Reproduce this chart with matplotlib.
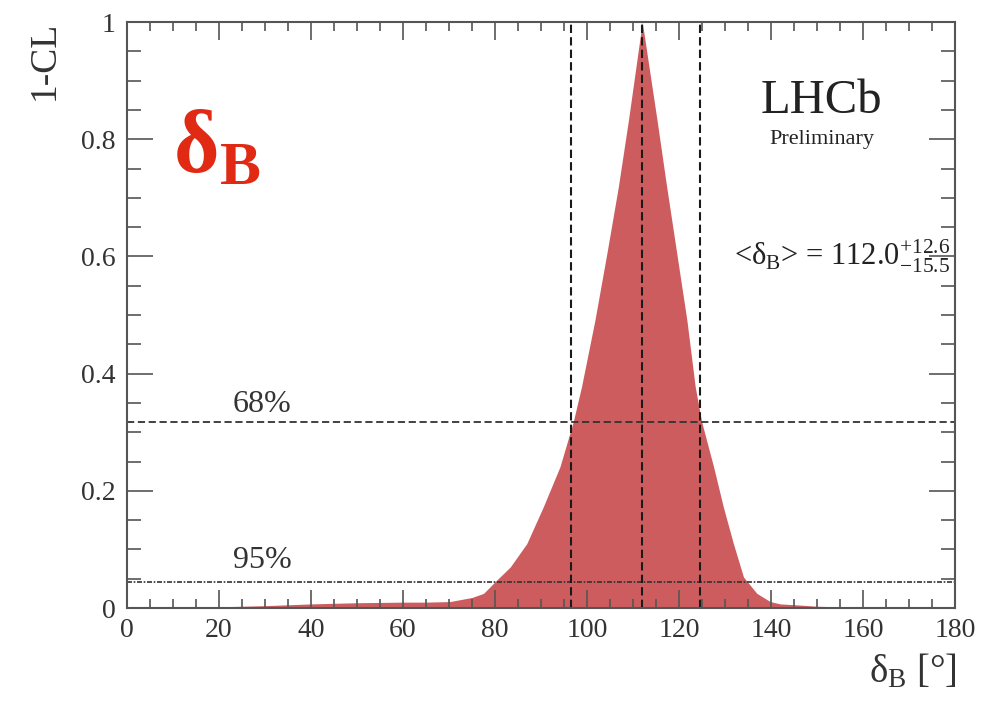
import matplotlib.pyplot as plt
import numpy as np
from matplotlib.ticker import MultipleLocator

plt.rcParams['font.family'] = ['Liberation Serif', 'DejaVu Serif']
plt.rcParams['mathtext.fontset'] = 'custom'
plt.rcParams['mathtext.rm'] = 'Liberation Serif'
plt.rcParams['mathtext.it'] = 'Liberation Serif:italic'
plt.rcParams['mathtext.bf'] = 'Liberation Serif:bold'

# 1-CL scan of delta_B
delta_b = [0, 10, 20, 30, 40, 50, 60, 65, 70.2, 75, 77.5, 80.4, 83.3, 86.9, 90.5,
           94.1, 97.0, 98.8, 101.7, 104.3, 106.8, 109.0, 112.0,
           115.2, 117.3, 119.5, 121.7, 123.5, 124.9, 127.5, 129.6, 131.8,
           134.0, 136.9, 139.8, 142, 146.3, 150, 160, 170, 180]
one_minus_cl = [0.0, 0.001, 0.002, 0.004, 0.007, 0.009, 0.010, 0.010, 0.011,
                0.018, 0.025, 0.048, 0.070, 0.110, 0.173, 0.241, 0.318, 0.378,
                0.491, 0.605, 0.719, 0.833, 1.0,
                0.833, 0.719, 0.605, 0.491, 0.378, 0.318, 0.241, 0.173, 0.110,
                0.053, 0.025, 0.011, 0.007, 0.005, 0.003, 0.001, 0.0, 0.0]

central = 112.0
err_up = 12.6
err_down = 15.5
cl68 = 0.317
cl95 = 0.045

fig = plt.figure(figsize=(9.98, 7.06), dpi=100)
ax = fig.add_axes([0.1273, 0.1388, 0.957 - 0.1273, 0.9688 - 0.1388])

ax.fill_between(delta_b, one_minus_cl, color='#cd5c5e', lw=0, zorder=1)

# confidence levels and interval boundaries
ax.axhline(cl68, color='#333333', lw=1.3, dashes=(4, 2), zorder=2)
ax.axhline(cl95, color='#333333', lw=1.2, dashes=(3, 1, 1, 1), zorder=2)
for xv in (central - err_down, central, central + err_up):
    ax.axvline(xv, color='#1a1a1a', lw=1.5, dashes=(4, 2), zorder=2)

ax.text(29.4, 0.322, '68%', fontsize=23, color='#333333', ha='center', va='bottom')
ax.text(29.4, 0.056, '95%', fontsize=23, color='#333333', ha='center', va='bottom')

ax.set_xlim(0, 180)
ax.set_ylim(0, 1)
ax.xaxis.set_major_locator(MultipleLocator(20))
ax.xaxis.set_minor_locator(MultipleLocator(5))
ax.yaxis.set_major_locator(MultipleLocator(0.2))
ax.yaxis.set_minor_locator(MultipleLocator(0.05))
ax.set_yticks([0, 0.2, 0.4, 0.6, 0.8, 1.0])
ax.set_yticklabels(['0', '0.2', '0.4', '0.6', '0.8', '1'])

ax.tick_params(axis='both', which='both', direction='in', top=True, right=True,
               color='#555555', width=1.2, labelcolor='#333333', labelsize=20)
ax.tick_params(axis='y', which='major', length=19, pad=8)
ax.tick_params(axis='y', which='minor', length=10)
ax.tick_params(axis='x', which='major', length=13, pad=7)
ax.tick_params(axis='x', which='minor', length=6.5)
for sp in ax.spines.values():
    sp.set_color('#555555')
    sp.set_linewidth(1.5)
    sp.set_zorder(3)

fig.text(0.959, 0.048, r'$\mathrm{δ_B}$ [°]', fontsize=28, color='#333333',
         ha='right', va='center')
fig.text(0.045, 0.971, '1-CL', fontsize=27, color='#333333', rotation=90,
         ha='center', va='top')

ax.text(151, 0.866, 'LHCb', fontsize=35, color='#222222', ha='center', va='center')
ax.text(151, 0.800, 'Preliminary', fontsize=16, color='#222222', ha='center', va='center')
ax.text(178.9, 0.600, r'<$\mathrm{δ_B}$> = 112.0$^{+12.6}_{-15.5}$', fontsize=22,
        color='#222222', ha='right', va='center')

ax.text(10, 0.78, r'$\mathbf{δ_B}$', fontsize=63, color='#e02a14', ha='left', va='center')

fig.savefig('out.png', dpi=100)
